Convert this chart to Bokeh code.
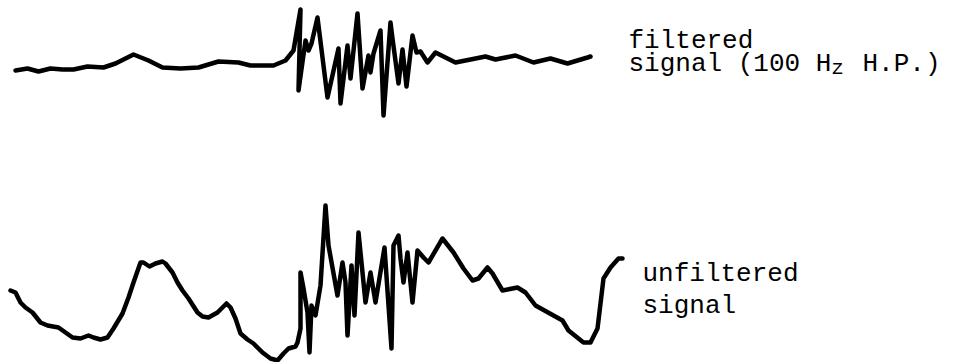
from bokeh.plotting import figure
from bokeh.models import Range1d
from bokeh.core.properties import value
from bokeh.embed import file_html
from bokeh.resources import INLINE

# Filtered signal (100 Hz high-pass): time (arbitrary units) and amplitude
t_filtered = [15, 27, 38, 50, 62, 73, 87, 103, 115, 133, 148, 162, 180, 198, 218, 238, 250, 273,
              285, 293, 300, 298, 305, 308, 311, 317, 327, 338, 340, 347, 350, 357, 362, 368,
              370, 373, 380, 383, 390, 392, 398, 402, 406, 412, 416, 420, 427, 435, 445, 455,
              470, 485, 495, 515, 533, 550, 567, 587, 590]
v_filtered = [-2, 0, -3, 0, -1, -1, 2, 1, 5, 14, 8, 1, 0, 1, 7, 6, 3, 3,
              8, 18, 59, -22, 28, 18, 25, 51, -29, 20, -35, 23, -10, 55, -20, 13,
              -4, 15, 38, -47, 46, 30, -15, 19, -18, 33, 16, 17, 6, 16, 11, 6,
              9, 12, 9, 13, 6, 10, 5, 11, 12]

# Unfiltered signal: time and amplitude
t_unfiltered = [10, 15, 20, 25, 32, 40, 47, 58, 65, 72, 80, 88, 93, 100, 107, 113, 122, 128,
                133, 140, 143, 149, 155, 162, 165, 172, 177, 182, 188, 197, 202, 208, 217, 226,
                230, 235, 240, 247, 253, 262, 270, 277, 283, 288, 295, 297, 300, 300, 303, 307,
                309, 311, 315, 320, 325, 328, 337, 342, 345, 347, 351, 354, 358, 365, 370, 375,
                384, 391, 393, 398, 400, 403, 407, 412, 417, 423, 428, 442, 453, 463, 472, 478,
                487, 492, 502, 517, 525, 535, 553, 562, 568, 583, 590, 597, 603, 610, 618, 622]
v_unfiltered = [10, 8, -2, -7, -12, -22, -25, -27, -32, -37, -38, -35, -37, -39, -37, -28, -13, 3,
                18, 38, 38, 34, 37, 39, 37, 28, 18, 10, 2, -12, -16, -17, -12, -3,
                -7, -18, -33, -39, -43, -52, -58, -60, -53, -48, -46, -42, -28, 28, 12, -12,
                -52, -5, -15, 15, 95, 55, 5, 38, 18, -35, 35, -15, 68, -2, 28, -2,
                53, -48, 55, 65, 42, 18, 48, -2, 50, 43, 38, 62, 48, 32, 20, 22,
                33, 27, 10, 13, 8, -5, -15, -20, -30, -42, -42, -28, 22, 33, 42, 42]

label_filtered = ["filtered", "signal (100 H", "z", "H.P.)"]
label_unfiltered = ["unfiltered", "signal"]

# layout offsets for each trace (screen-like vertical axis, downward)
BASE_TOP = 68
BASE_BOTTOM = 300

p = figure(width=957, height=362, output_backend="svg", toolbar_location=None,
           x_range=Range1d(0, 957), y_range=Range1d(362, 0),
           min_border=0, min_border_left=0, min_border_right=0,
           min_border_top=0, min_border_bottom=0)
p.axis.visible = False
p.grid.visible = False
p.outline_line_color = None
p.background_fill_color = "white"
p.border_fill_color = "white"

p.line(t_filtered, [BASE_TOP - v for v in v_filtered],
       line_color="black", line_width=4.5, line_join="round", line_cap="round")
p.line(t_unfiltered, [BASE_BOTTOM - v for v in v_unfiltered],
       line_color="black", line_width=4.5, line_join="round", line_cap="round")

font = value("Liberation Mono")
cw = 15.6
x0 = 628
p.text(x=[x0], y=[40], text=[label_filtered[0]], text_font=font, text_font_size="26px",
       text_baseline="alphabetic", text_align="left", text_color="black")
p.text(x=[x0], y=[63], text=[label_filtered[1]], text_font=font, text_font_size="26px",
       text_baseline="alphabetic", text_align="left", text_color="black")
p.text(x=[x0 + 13 * cw], y=[68], text=[label_filtered[2]], text_font=font, text_font_size="21px",
       text_baseline="alphabetic", text_align="left", text_color="black")
p.text(x=[x0 + 15 * cw], y=[63], text=[label_filtered[3]], text_font=font, text_font_size="26px",
       text_baseline="alphabetic", text_align="left", text_color="black")

x1 = 642
p.text(x=[x1], y=[273], text=[label_unfiltered[0]], text_font=font, text_font_size="26px",
       text_baseline="alphabetic", text_align="left", text_color="black")
p.text(x=[x1], y=[305], text=[label_unfiltered[1]], text_font=font, text_font_size="26px",
       text_baseline="alphabetic", text_align="left", text_color="black")

open("out.html", "w").write(file_html(p, INLINE))
